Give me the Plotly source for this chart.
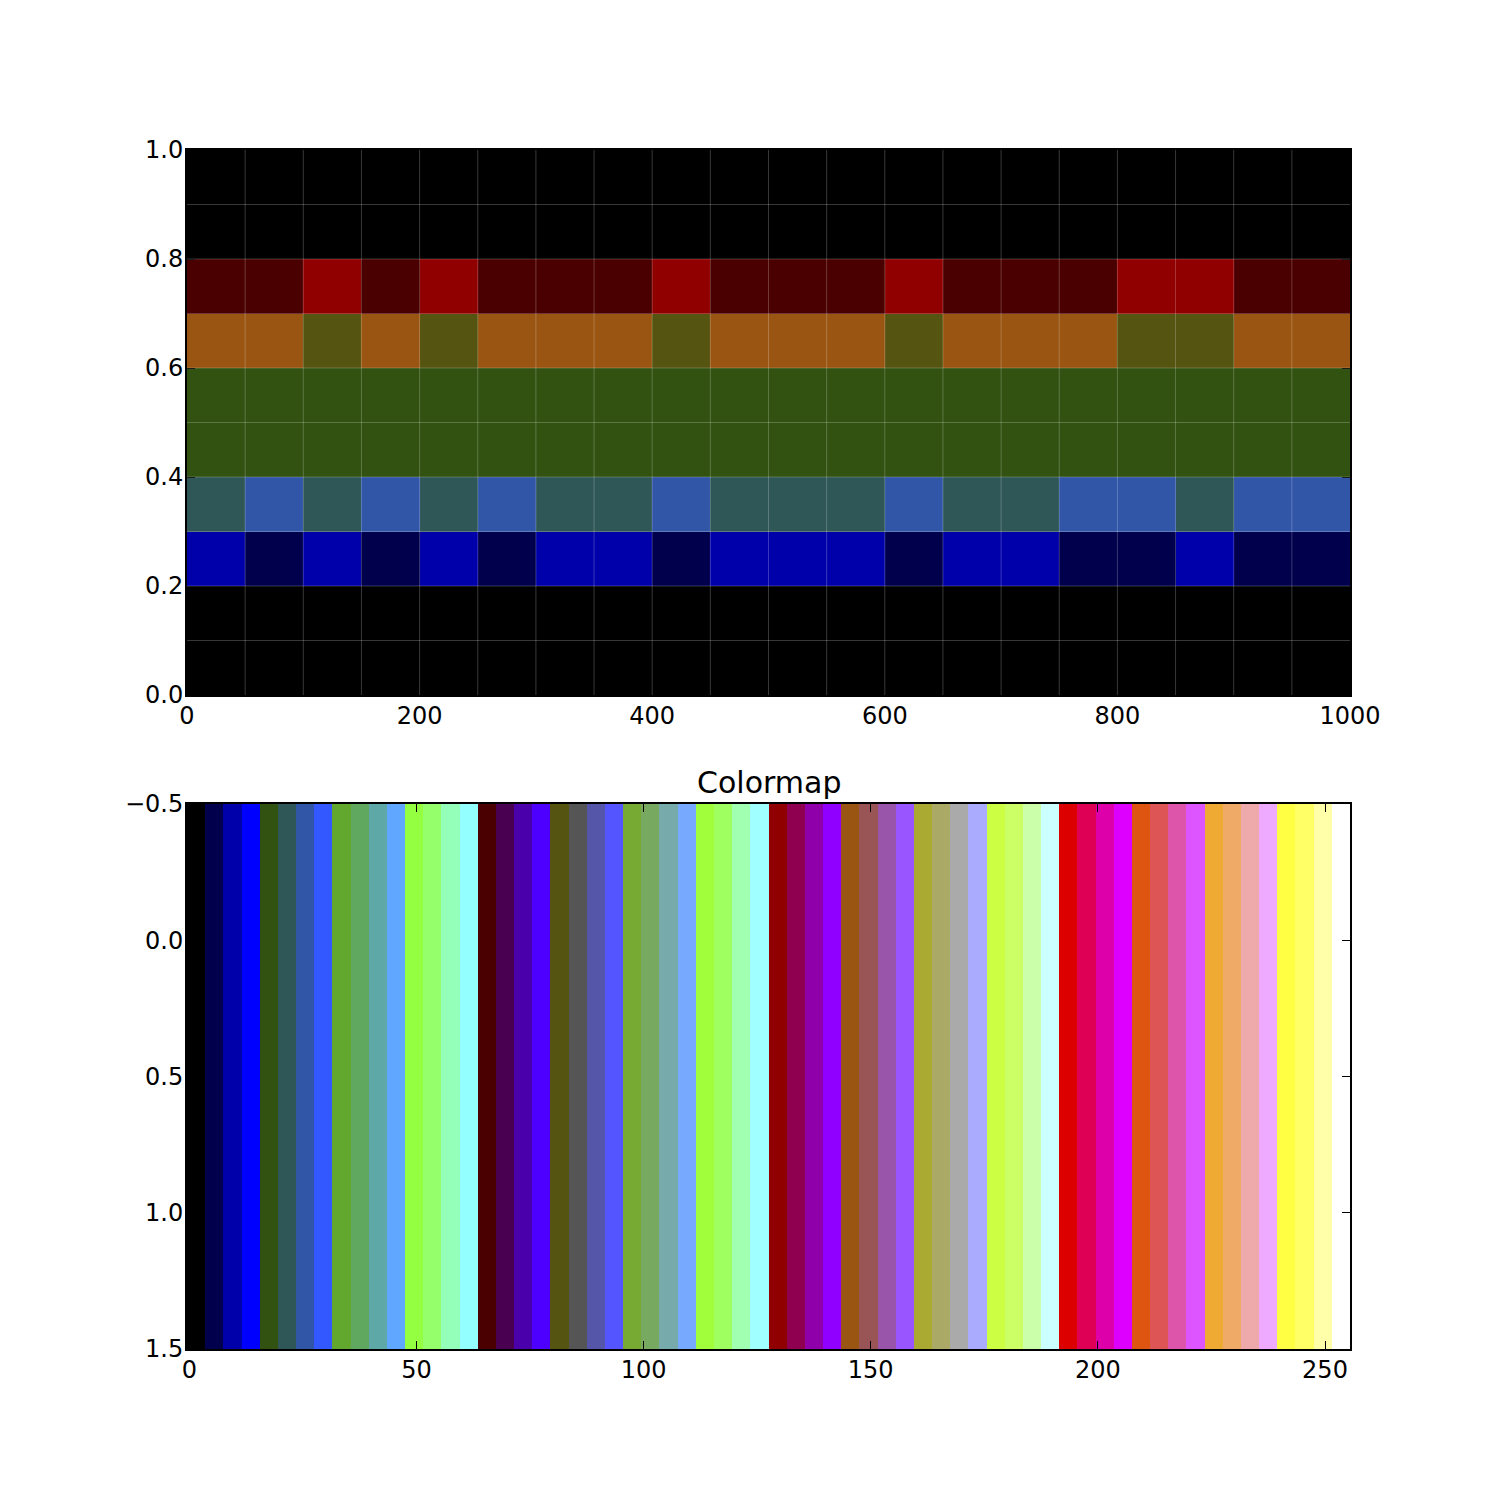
import plotly.graph_objects as go

# 64 distinct colours of the colormap, each covering 4 consecutive indices (256 total)
cmap_colors = [
    "#000000", "#00004d", "#0000aa", "#0000ff",
    "#315211", "#2f5757", "#3156a8", "#3358ff",
    "#62a82e", "#60a860", "#5ea8a8", "#60a8ff",
    "#94ff40", "#94ff6a", "#94ffb8", "#94ffff",
    "#4a0000", "#4a0050", "#4a00aa", "#4d00ff",
    "#555511", "#555555", "#5555aa", "#5555ff",
    "#77aa33", "#77aa60", "#77aaaa", "#77aaff",
    "#a0ff3a", "#a0ff60", "#a0ffb0", "#a0ffff",
    "#900000", "#900050", "#9000aa", "#9000ff",
    "#995511", "#995555", "#9955aa", "#9955ff",
    "#aaaa33", "#aaaa66", "#aaaaaa", "#aaaaff",
    "#ccff44", "#ccff66", "#ccffaa", "#ccffff",
    "#dd0000", "#dd0055", "#dd00aa", "#dd00ff",
    "#dd5511", "#dd5555", "#dd55aa", "#dd55ff",
    "#eeaa33", "#eeaa66", "#eeaaaa", "#eeaaff",
    "#ffff44", "#ffff66", "#ffffaa", "#ffffff",
]
n_indices = 256

# Top panel: 20 columns (x 0..1000) by 10 rows (y 0..1), values are colormap indices
top_x = [25, 75, 125, 175, 225, 275, 325, 375, 425, 475,
         525, 575, 625, 675, 725, 775, 825, 875, 925, 975]
top_y = [0.05, 0.15, 0.25, 0.35, 0.45, 0.55, 0.65, 0.75, 0.85, 0.95]
row_blue = [8, 4, 8, 4, 8, 4, 8, 8, 4, 8, 8, 8, 4, 8, 8, 4, 4, 8, 4, 4]
row_teal = [20, 24, 20, 24, 20, 24, 20, 20, 24, 20, 20, 20, 24, 20, 20, 24, 24, 20, 24, 24]
row_orange = [144, 144, 80, 144, 80, 144, 144, 144, 80, 144, 144, 144, 80, 144, 144, 144, 80, 80, 144, 144]
row_red = [64, 64, 128, 64, 128, 64, 64, 64, 128, 64, 64, 64, 128, 64, 64, 64, 128, 128, 64, 64]
row_black = [0] * 20
row_green = [16] * 20
top_z = [row_black, row_black, row_blue, row_teal, row_green,
         row_green, row_orange, row_red, row_black, row_black]
top_xticks = [0, 200, 400, 600, 800, 1000]
top_yticks = [0.0, 0.2, 0.4, 0.6, 0.8, 1.0]

# Bottom panel: the colormap itself, indices 0..255 in two rows
cmap_x = list(range(n_indices))
cmap_y = [0, 1]
cmap_z = [list(range(n_indices)), list(range(n_indices))]
bot_xticks = [0, 50, 100, 150, 200, 250]
bot_yticks = [-0.5, 0.0, 0.5, 1.0, 1.5]
bot_yticktext = ["\u22120.5", "0.0", "0.5", "1.0", "1.5"]

# stepwise colorscale
nc = len(cmap_colors)
colorscale = []
for k, c in enumerate(cmap_colors):
    colorscale.append([k / nc, c])
    colorscale.append([(k + 1) / nc, c])

fig = go.Figure()
fig.add_trace(go.Heatmap(
    x=top_x, y=top_y, z=top_z, colorscale=colorscale,
    zmin=-0.5, zmax=n_indices - 0.5, showscale=False, xaxis="x", yaxis="y",
    hoverinfo="skip"))
fig.add_trace(go.Heatmap(
    x=cmap_x, y=cmap_y, z=cmap_z, colorscale=colorscale,
    zmin=-0.5, zmax=n_indices - 0.5, showscale=False, xaxis="x2", yaxis="y2",
    hoverinfo="skip"))

# faint grid lines over the top panel at cell edges
shapes = []
for i in range(1, len(top_x)):
    xe = (top_x[i - 1] + top_x[i]) / 2
    shapes.append(dict(type="line", xref="x", yref="y", x0=xe, x1=xe, y0=0, y1=1,
                       line=dict(color="rgba(255,255,255,0.22)", width=1), layer="above"))
for j in range(1, len(top_y)):
    ye = (top_y[j - 1] + top_y[j]) / 2
    shapes.append(dict(type="line", xref="x", yref="y", x0=0, x1=1000, y0=ye, y1=ye,
                       line=dict(color="rgba(255,255,255,0.22)", width=1), layer="above"))

font = dict(family="DejaVu Sans", size=24, color="black")
axis_common = dict(showline=True, linecolor="black", linewidth=2, mirror="ticks",
                   ticks="inside", ticklen=8, tickwidth=1, tickcolor="black",
                   showgrid=False, zeroline=False, tickfont=font)

W = 1500.0
H = 1500.0
# pixel boxes of the two panels (left, right, top, bottom) in page pixels
top_box = (179, 1342, 142, 687)
bot_box = (179, 1342, 796, 1341)

fig.update_layout(
    width=1500, height=1500, autosize=False,
    margin=dict(l=0, r=0, t=0, b=0, autoexpand=False),
    paper_bgcolor="white", plot_bgcolor="white",
    font=font, showlegend=False, shapes=shapes,
    xaxis=dict(domain=[top_box[0] / W, top_box[1] / W], anchor="y", range=[0, 1000],
               tickvals=top_xticks, ticklabelstandoff=-2, **axis_common),
    yaxis=dict(domain=[1 - top_box[3] / H, 1 - top_box[2] / H], anchor="x", range=[0, 1],
               tickvals=top_yticks, tickformat=".1f", ticklabelstandoff=-3, **axis_common),
    xaxis2=dict(domain=[bot_box[0] / W, bot_box[1] / W], anchor="y2", range=[-0.5, n_indices - 0.5],
                tickvals=bot_xticks, ticklabelstandoff=-2, **axis_common),
    yaxis2=dict(domain=[1 - bot_box[3] / H, 1 - bot_box[2] / H], anchor="x2", range=[1.5, -0.5],
                tickvals=bot_yticks, ticktext=bot_yticktext, ticklabelstandoff=-3, **axis_common),
    annotations=[dict(text="Colormap", xref="paper", yref="paper",
                      x=(bot_box[0] + bot_box[1]) / 2 / W, y=1 - (bot_box[2] - 2) / H,
                      xanchor="center", yanchor="bottom", showarrow=False,
                      font=dict(family="DejaVu Sans", size=30, color="black"))],
)

fig.write_html("out.html")
